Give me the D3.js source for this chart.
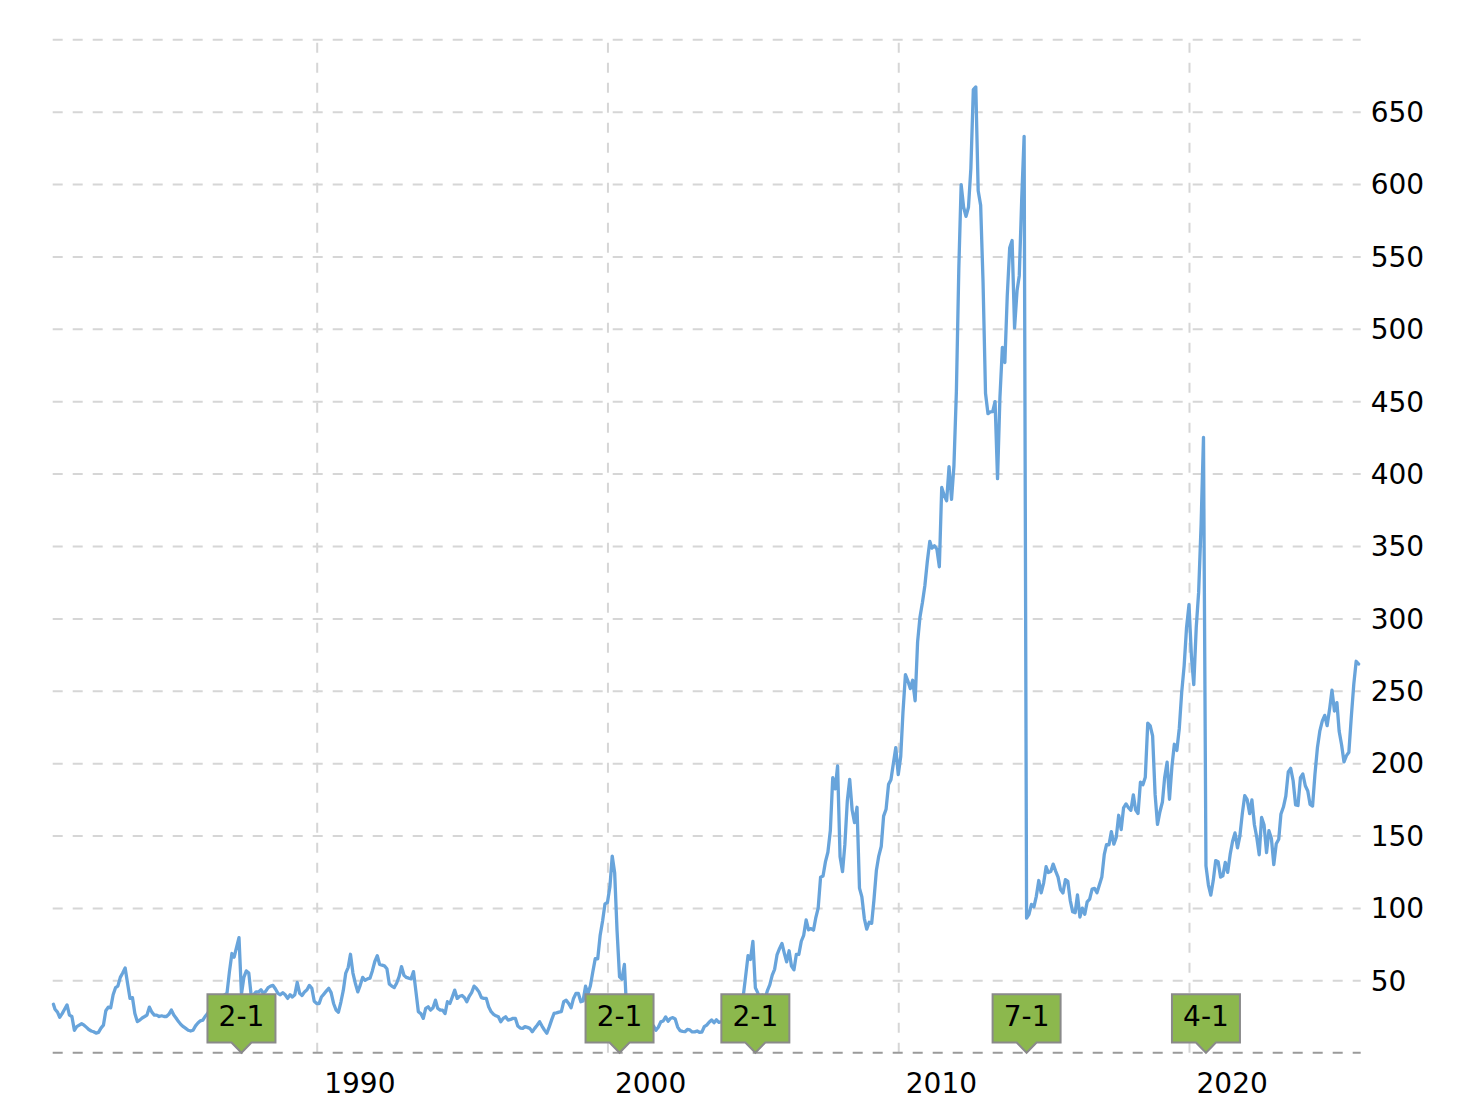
<!DOCTYPE html>
<html>
<head>
<meta charset="utf-8">
<script src="https://cdn.jsdelivr.net/npm/d3@7"></script>
<style>
  html, body { margin: 0; padding: 0; background: #ffffff; }
  svg { display: block; }
  text { font-family: Verdana, "DejaVu Sans", sans-serif; }
</style>
</head>
<body>
<svg id="chart" width="1460" height="1104"></svg>
<script>
// ---- Data: monthly closing price (USD, not split-adjusted), Dec 1980 .. Nov 2025 ----
const ipoDate = "1980-12-12";
const firstMonth = "1980-12";
const lastMonth = "2025-11";

const close1980s = [
  33.5,
  30, 28, 24.5, 27, 30, 33, 26, 25, 15.5, 18, 19, 20,
  19, 17.5, 16, 15, 14.5, 13.5, 14, 17, 19, 29, 31.5, 31,
  40, 45, 46, 52, 55, 58.5, 48, 37.5, 38, 27, 21.5, 22.5,
  24, 25, 26, 31.5, 28, 26, 26, 25, 25.5, 25, 25, 26.5,
  29.5, 26, 24, 21.5, 19.5, 18, 16.8, 15.5, 15, 15.5, 18.5, 20.5,
  22, 22.5, 25, 27, 30, 33, 29, 33, 34, 37, 40, 41,
  56, 68.5, 66, 73, 79.5, 40.5, 52, 56.5, 55, 39.5, 40, 42,
  42, 43.5, 41, 42.5, 45, 46, 46.5, 44, 41, 40, 41.5, 40,
  37.5, 40, 38.5, 40, 48.5, 41, 39.5, 42, 43.5, 46.5, 44.5, 35.5
];
const close1990s = [
  34, 34, 38.5, 40.5, 42.5, 44.5, 41.5, 34, 29.5, 28, 35, 43,
  55, 59, 68, 55, 48, 42, 46.5, 52, 50, 51, 51.5, 56.5,
  63, 67, 61, 60.5, 60, 58, 47.5, 46, 45, 48, 52.5, 59.5,
  53.5, 52, 51.5, 51, 56, 42, 28.3, 27, 23.7, 30.6, 31.7, 29.4,
  31, 36.3, 30.6, 29.5, 29.4, 27, 35.2, 34, 38.6, 43.2, 37.5, 39,
  39.5, 38, 35.2, 39, 41.5, 46, 44.4, 42, 38, 37.5, 37.5, 31.7,
  28.3, 26.5, 25.5, 24.8, 21.4, 23.7, 24.8, 22.5, 23, 23.7, 23.7, 18.5,
  17, 16.8, 18, 17.5, 16.8, 14.5, 16.8, 19, 21.4, 18.4, 15.6, 13.4,
  18, 23, 27.1, 27.5, 28, 28.3, 35.2, 36.3, 34, 31, 37.5, 40.9,
  40.9, 35.2, 35.8, 45.9, 40.7, 46.3, 55.7, 65, 64.9, 80.9, 91, 102.8
];
const close2000s = [
  103.75, 114.62, 135.81, 124.06, 84.00, 52.38, 50.81, 60.94, 25.75, 19.56, 16.69, 14.88,
  21.62, 18.25, 22.07, 25.49, 19.95, 23.25, 18.79, 18.55, 15.51, 17.56, 21.30, 21.90,
  24.72, 21.70, 23.67, 24.27, 23.30, 17.72, 15.26, 14.76, 14.50, 16.04, 15.69, 14.33,
  14.36, 15.01, 14.14, 14.22, 17.95, 19.06, 21.08, 22.61, 20.72, 22.75, 20.91, 21.37,
  22.56, 23.92, 27.04, 25.78, 28.06, 32.54, 32.34, 34.49, 38.75, 52.40, 67.05, 64.40,
  76.90, 44.86, 41.67, 36.06, 39.76, 36.81, 42.65, 46.89, 53.61, 57.59, 67.82, 71.89,
  75.51, 68.49, 62.72, 70.39, 59.77, 57.27, 67.96, 67.85, 76.98, 81.08, 91.66, 84.84,
  85.73, 84.61, 92.91, 99.80, 121.19, 122.04, 131.76, 138.48, 153.47, 189.95, 182.22, 198.08,
  135.36, 125.02, 143.50, 173.95, 188.75, 167.44, 158.95, 169.53, 113.66, 107.59, 92.67, 85.35,
  90.13, 89.31, 105.12, 125.83, 135.81, 142.43, 163.39, 168.21, 185.35, 188.50, 199.91, 210.73
];
const close2010s = [
  192.06, 204.62, 235.00, 261.09, 256.88, 251.53, 257.25, 243.10, 283.75, 300.98, 311.15, 322.56,
  339.32, 353.21, 348.51, 350.13, 347.83, 335.67, 390.48, 384.83, 381.32, 404.78, 382.20, 405.00,
  456.48, 542.44, 599.55, 583.98, 577.73, 584.00, 610.76, 665.24, 667.10, 595.32, 585.28, 532.17,
  455.49, 441.40, 442.66, 442.78, 449.73, 396.53, 452.53, 487.22, 476.75, 522.70, 556.07, 561.02,
  500.60, 526.24, 536.74, 590.09, 633.00, 92.93, 95.60, 102.50, 100.75, 108.00, 118.93, 110.38,
  117.16, 128.46, 124.43, 125.15, 130.28, 125.43, 121.30, 112.76, 110.30, 119.50, 118.30, 105.26,
  97.34, 96.69, 108.99, 93.74, 99.86, 95.60, 104.21, 106.10, 113.05, 113.54, 110.52, 115.82,
  121.35, 136.99, 143.66, 143.65, 152.76, 144.02, 148.73, 164.00, 154.12, 169.04, 171.85, 169.23,
  167.43, 178.12, 167.78, 165.26, 186.87, 185.11, 190.29, 227.63, 225.74, 218.86, 178.58, 157.74,
  166.44, 173.15, 189.95, 200.67, 175.07, 197.92, 213.04, 208.74, 223.97, 248.76, 267.25, 293.65
];
const close2020s = [
  309.51, 273.36, 254.29, 293.80, 317.94, 364.80, 425.04, 129.04, 115.81, 108.86, 119.05, 132.69,
  131.96, 121.26, 122.15, 131.46, 124.61, 136.96, 145.86, 151.83, 141.50, 149.80, 165.30, 177.57,
  174.78, 165.12, 174.61, 157.65, 148.84, 136.72, 162.51, 157.22, 138.20, 153.34, 148.03, 129.93,
  144.29, 147.41, 164.90, 169.68, 177.25, 193.97, 196.45, 187.87, 171.21, 170.77, 189.95, 192.53,
  184.40, 180.75, 171.48, 170.33, 192.25, 210.62, 222.08, 229.00, 233.00, 225.91, 237.33, 250.42,
  236.00, 241.84, 222.13, 212.50, 200.85, 205.17, 207.57, 232.14, 254.63, 270.37, 268.5
];

const splitMonths = ["1987-06", "2000-06", "2005-02", "2014-06", "2020-08"];
const splitLabels = ["2-1", "2-1", "2-1", "7-1", "4-1"];

const yTickValues = [50, 100, 150, 200, 250, 300, 350, 400, 450, 500, 550, 600, 650];
const yGridValues = [50, 100, 150, 200, 250, 300, 350, 400, 450, 500, 550, 600, 650, 700];
const xTickYears = [1990, 2000, 2010, 2020];

// ---- Build series ----
const parseMonth = d3.timeParse("%Y-%m");
const parseDay = d3.timeParse("%Y-%m-%d");
const allCloses = [].concat(close1980s, close1990s, close2000s, close2010s, close2020s);
const monthDates = d3.timeMonth.range(parseMonth(firstMonth), d3.timeMonth.offset(parseMonth(lastMonth), 1));
const series = monthDates.map((d, i) => ({ date: i === 0 ? parseDay(ipoDate) : d, value: allCloses[i] }));

// ---- Layout ----
const svg = d3.select("#chart");
const plotLeft = 52.7, plotRight = 1360.7, plotTop = 39.3, plotBottom = 1052.7;

const x = d3.scaleTime()
  .domain([parseMonth(firstMonth), parseMonth(lastMonth)])
  .range([52.55, 1358.65]);
const y = d3.scaleLinear()
  .domain([0, 700])
  .range([plotBottom, plotTop]);

const fontSize = 28;

// Horizontal grid lines
const gY = svg.append("g")
  .attr("transform", `translate(${plotLeft},0)`)
  .call(d3.axisLeft(y).tickValues(yGridValues).tickSize(-(plotRight - plotLeft)).tickFormat(""));
gY.select(".domain").remove();
gY.selectAll(".tick line")
  .attr("stroke", "#d6d6d6").attr("stroke-width", 2).attr("stroke-dasharray", "10,10");

// Vertical grid lines (drawn from the bottom upward)
const gX = svg.append("g")
  .attr("transform", `translate(0,${plotBottom})`)
  .call(d3.axisBottom(x)
    .tickValues(xTickYears.map(yr => new Date(yr, 0, 1)))
    .tickSize(-(plotBottom - plotTop))
    .tickFormat(d3.timeFormat("%Y")));
gX.select(".domain").remove();
gX.selectAll(".tick line")
  .attr("stroke", "#d6d6d6").attr("stroke-width", 2).attr("stroke-dasharray", "10,10");
gX.selectAll(".tick text")
  .attr("text-anchor", "start")
  .attr("x", 7)
  .attr("y", 40.5)
  .attr("dy", 0)
  .attr("fill", "#000")
  .style("font-family", "Verdana, 'DejaVu Sans', sans-serif")
  .style("font-size", fontSize + "px");

// Zero baseline
svg.append("line")
  .attr("x1", plotLeft).attr("x2", plotRight)
  .attr("y1", y(0)).attr("y2", y(0))
  .attr("stroke", "#9a9a9a").attr("stroke-width", 2).attr("stroke-dasharray", "10,10");

// Right-side value labels
const gR = svg.append("g")
  .attr("transform", `translate(${plotRight},0)`)
  .call(d3.axisRight(y).tickValues(yTickValues).tickSize(0).tickPadding(10));
gR.select(".domain").remove();
gR.selectAll(".tick text")
  .attr("fill", "#000")
  .attr("dy", "0.35em")
  .style("font-family", "Verdana, 'DejaVu Sans', sans-serif")
  .style("font-size", fontSize + "px");

// Price line
const line = d3.line()
  .x(d => x(d.date))
  .y(d => y(d.value));
svg.append("path")
  .datum(series)
  .attr("fill", "none")
  .attr("stroke", "#68a4db")
  .attr("stroke-width", 3.3)
  .attr("stroke-linejoin", "round")
  .attr("stroke-linecap", "round")
  .attr("d", line);

// Split markers
const boxW = 68, boxTop = 994.3, boxBottom = 1042.5, ptrW = 10;
const splits = splitMonths.map((m, i) => ({ date: parseMonth(m), label: splitLabels[i] }));
const gS = svg.append("g");
splits.forEach(s => {
  const tx = x(s.date), ty = y(0);
  const l = tx - boxW / 2, r = tx + boxW / 2;
  const p = d3.path();
  p.moveTo(l, boxTop);
  p.lineTo(r, boxTop);
  p.lineTo(r, boxBottom);
  p.lineTo(tx + ptrW, boxBottom);
  p.lineTo(tx, ty);
  p.lineTo(tx - ptrW, boxBottom);
  p.lineTo(l, boxBottom);
  p.closePath();
  gS.append("path")
    .attr("d", p.toString())
    .attr("fill", "#8cb84d")
    .attr("stroke", "#8a8a8a")
    .attr("stroke-width", 2)
    .attr("stroke-linejoin", "miter");
  gS.append("text")
    .attr("x", tx)
    .attr("y", 1026)
    .attr("text-anchor", "middle")
    .attr("fill", "#000")
    .style("font-size", fontSize + "px")
    .text(s.label);
});
</script>
</body>
</html>
